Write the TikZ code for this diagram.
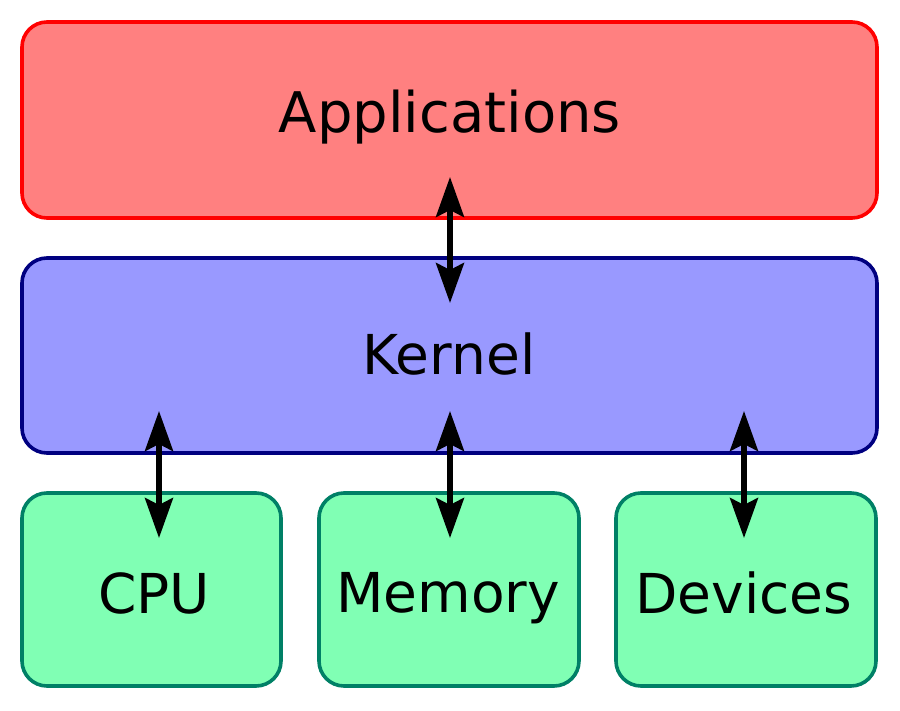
\documentclass[tikz,border=0pt]{standalone}
\usepackage{fontspec}
\setmainfont{DejaVu Sans}
\usetikzlibrary{arrows.meta}
\definecolor{appfill}{HTML}{FF8080}
\definecolor{appdraw}{HTML}{FF0000}
\definecolor{kerfill}{HTML}{9999FF}
\definecolor{kerdraw}{HTML}{000080}
\definecolor{hwfill}{HTML}{80FFB4}
\definecolor{hwdraw}{HTML}{008066}
\tikzset{
  layer/.style={rounded corners=25pt, line width=3.6pt},
  label/.style={anchor=base, inner sep=0pt, font=\fontsize{55}{60}\selectfont},
  dblarrow/.style={line width=5.5pt, {Stealth[length=40pt,width=28pt,inset=7pt]}-{Stealth[length=40pt,width=28pt,inset=7pt]}}
}
\begin{document}
\begin{tikzpicture}[x=1pt,y=-1pt]
\useasboundingbox (0,0) rectangle (900,711);
\draw[layer, draw=appdraw, fill=appfill] (22,22) rectangle (877,218);
\node[label, font=\fontsize{56}{60}\selectfont] (app) at (450,133) {Applications};
\draw[layer, draw=kerdraw, fill=kerfill] (22,258) rectangle (877,453);
\node[label] (ker) at (449,375) {Kernel};
\draw[layer, draw=hwdraw, fill=hwfill] (22,493) rectangle (281,686);
\draw[layer, draw=hwdraw, fill=hwfill] (319,493) rectangle (579,686);
\draw[layer, draw=hwdraw, fill=hwfill] (616,493) rectangle (876,686);
\node[label] (cpu) at (154,613) {CPU};
\node[label] (mem) at (448,612) {Memory};
\node[label] (dev) at (744,613) {Devices};
\coordinate (a1) at (450,177);
\coordinate (a2) at (450,303);
\coordinate (c1) at (159,411);
\coordinate (c2) at (159,538);
\coordinate (m1) at (450,411);
\coordinate (m2) at (450,538);
\coordinate (d1) at (744,411);
\coordinate (d2) at (744,538);
\draw[dblarrow] (a1) -- (a2);
\draw[dblarrow] (c1) -- (c2);
\draw[dblarrow] (m1) -- (m2);
\draw[dblarrow] (d1) -- (d2);
\end{tikzpicture}
\end{document}
